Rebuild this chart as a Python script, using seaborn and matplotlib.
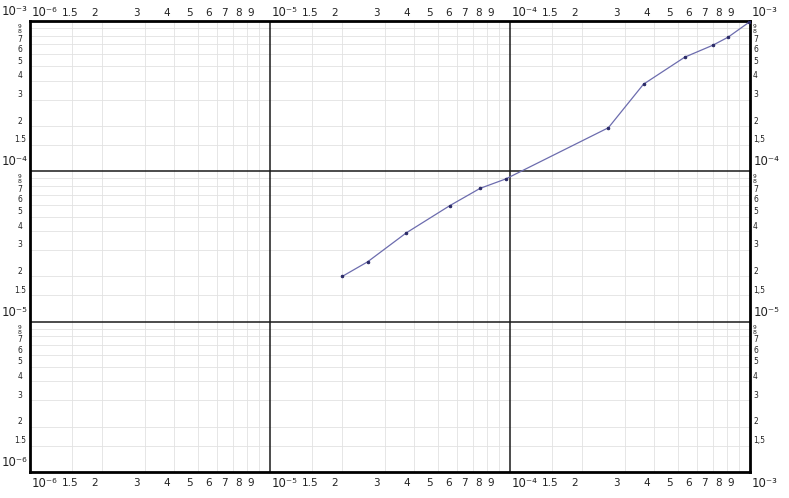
import matplotlib
matplotlib.use("Agg")
import matplotlib.pyplot as plt
import matplotlib.transforms as mtrans
import seaborn as sns
import pandas as pd

x_vals = [2.0e-5, 2.55e-5, 3.7e-5, 5.6e-5, 7.5e-5, 9.6e-5, 2.57e-4, 3.6e-4, 5.35e-4, 7.0e-4, 8.1e-4, 9.9e-4]
y_vals = [2.0e-5, 2.5e-5, 3.9e-5, 5.9e-5, 7.7e-5, 8.9e-5, 1.95e-4, 3.8e-4, 5.75e-4, 6.9e-4, 7.8e-4, 9.8e-4]

decade_exps = [-6, -5, -4, -3]
decade_labels = ["10⁻⁶", "10⁻⁵", "10⁻⁴", "10⁻³"]
minor_mults = [1.5, 2, 3, 4, 5, 6, 7, 8, 9]
x_minor_labels = ["1.5", "2", "3", "4", "5", "6", "7", "8", "9"]
y_minor_labels_left = ["1.5", "2", "3", "4", "5", "6", "7", "8", "9"]
y_minor_labels_right = ["1,5", "2", "3", "4", "5", "6", "7", "8", "9"]

df = pd.DataFrame({"x": x_vals, "y": y_vals})

sns.set_style("white")
plt.rcParams["font.family"] = ["DejaVu Sans"]

fig = plt.figure(figsize=(7.89, 4.98), dpi=100)
ax = fig.add_axes([30 / 789, 26 / 498, 720 / 789, 451 / 498])
ax.set_xscale("log")
ax.set_yscale("log")
ax.set_xlim(1e-6, 1e-3)
ax.set_ylim(1e-6, 1e-3)

decades = [10.0 ** e for e in decade_exps]
minor_pos = [d * m for d in decades[:-1] for m in minor_mults]

# light grid
for p in minor_pos:
    ax.axvline(p, color="#e2e2e2", lw=0.6, zorder=0)
    ax.axhline(p, color="#e2e2e2", lw=0.6, zorder=0)
# decade lines
for d in decades[1:-1]:
    ax.axvline(d, color="#1a1a1a", lw=1.1, zorder=1)
    ax.axhline(d, color="#1a1a1a", lw=1.1, zorder=1)

sns.lineplot(data=df, x="x", y="y", sort=False, color="#6c6cae", lw=0.9,
             marker="o", markersize=1.8, markerfacecolor="#2a2a66",
             markeredgecolor="#2a2a66", ax=ax, zorder=3)

ax.set_xticks([])
ax.set_yticks([])
ax.set_xticks([], minor=True)
ax.set_yticks([], minor=True)
ax.set_xlabel("")
ax.set_ylabel("")
for s in ax.spines.values():
    s.set_visible(True)
    s.set_color("black")
    s.set_linewidth(2.0)

def off(dx, dy):
    return mtrans.ScaledTranslation(dx / 100, dy / 100, fig.dpi_scale_trans)

xt = mtrans.blended_transform_factory(ax.transData, ax.transAxes)
yt = mtrans.blended_transform_factory(ax.transAxes, ax.transData)

tc = "#222222"
x_dx = {1.5: -2}
# x labels, top and bottom
for yy, dy in [(1.0, 8), (0.0, -11)]:
    for lab, d in zip(decade_labels, decades):
        ax.text(d, yy, lab, transform=xt + off(2, dy), ha="left",
                va="center", fontsize=8.5, color=tc)
    for d in decades[:-1]:
        for m, lab in zip(minor_mults, x_minor_labels):
            ax.text(d * m, yy, lab, transform=xt + off(x_dx.get(m, -8), dy),
                    ha="center", va="center", fontsize=7.5, color=tc)

# y minor label styling: 8 and 9 squeezed near the decade line
y_dy = {9: 1.5, 8: 4, 7: 5}
y_fs = {9: 4.2, 8: 4.6}

# y labels left
for lab, d in zip(decade_labels, decades):
    ax.text(0.0, d, lab, transform=yt + off(-15, 3), ha="center",
            va="bottom", fontsize=8.5, color=tc)
for d in decades[:-1]:
    for m, lab in zip(minor_mults, y_minor_labels_left):
        ax.text(0.0, d * m, lab, transform=yt + off(-10, y_dy.get(m, 5)),
                ha="center", va="center", fontsize=y_fs.get(m, 5.5), color=tc)
# y labels right
for lab, d in zip(decade_labels[1:3], decades[1:3]):
    ax.text(1.0, d, lab, transform=yt + off(4, 3), ha="left",
            va="bottom", fontsize=8.5, color=tc)
for d in decades[:-1]:
    for m, lab in zip(minor_mults, y_minor_labels_right):
        ax.text(1.0, d * m, lab, transform=yt + off(3, y_dy.get(m, 5)),
                ha="left", va="center", fontsize=y_fs.get(m, 5.5), color=tc)

fig.savefig("out.png", dpi=100, facecolor="white")
